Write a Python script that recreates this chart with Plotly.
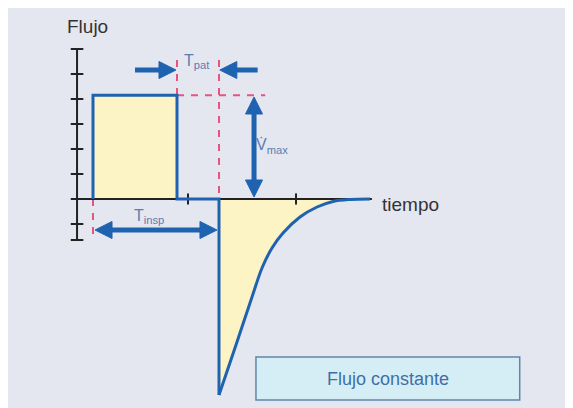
import math
import plotly.graph_objects as go

# ---------------- data ----------------
# time in s (0 = start of inspiration), flow in arbitrary units (1 unit = 1 tick)
t_wave = [0.0, 0.0, 1.0, 1.0, 1.5, 1.5]
flow_wave = [0.0, 4.15, 4.15, 0.0, 0.0, -7.84]

t_exp = [1.5, 1.702, 1.893, 2.012, 2.131, 2.262, 2.464, 2.667, 2.857, 3.06, 3.298]
flow_exp = [-7.84, -5.84, -3.92, -2.76, -1.96, -1.36, -0.72, -0.32, -0.10, -0.02, 0.0]

flow_ticks = [6.0, 5.0, 4.0, 3.0, 2.0, 1.0, 0.0, -1.0, -1.64]
time_ticks = [1.131, 2.417]
axis_t = -0.19
axis_t_end = 3.32

BLUE = "#1f62b0"
YELLOW = "#fdf4c6"
RED = "#e4557f"
LBL = "#5b7db1"

# axis scales (pixels per unit) used only to shape the arrowheads
PX_T = 84.0
PX_F = 25.0

fig = go.Figure()

# yellow fills
fig.add_trace(go.Scatter(x=[0, 0, 1.0, 1.0, 0], y=[0, 4.15, 4.15, 0, 0], fill="toself",
                         fillcolor=YELLOW, mode="none", hoverinfo="skip"))
fig.add_trace(go.Scatter(x=t_exp + [1.5], y=flow_exp + [0.0], fill="toself",
                         fillcolor=YELLOW, mode="none", hoverinfo="skip", line_shape="spline"))

# red dashed guides
dash = "7px,7px"
fig.add_trace(go.Scatter(x=[1.0, 1.0], y=[5.56, 4.15], mode="lines", line=dict(color=RED, width=2, dash=dash)))
fig.add_trace(go.Scatter(x=[1.5, 1.5], y=[5.56, 0.0], mode="lines", line=dict(color=RED, width=2, dash=dash)))
fig.add_trace(go.Scatter(x=[1.0, 2.05], y=[4.15, 4.15], mode="lines", line=dict(color=RED, width=2, dash=dash)))
fig.add_trace(go.Scatter(x=[0.0, 0.0], y=[0.0, -1.5], mode="lines", line=dict(color=RED, width=2, dash=dash)))

# axes
fig.add_trace(go.Scatter(x=[axis_t, axis_t], y=[flow_ticks[0], flow_ticks[-1]], mode="lines",
                         line=dict(color="#222", width=2)))
fig.add_trace(go.Scatter(x=[axis_t, axis_t_end], y=[0, 0], mode="lines", line=dict(color="#222", width=2)))
fig.add_trace(go.Scatter(x=[axis_t] * len(flow_ticks), y=flow_ticks, mode="markers",
                         marker=dict(symbol="line-ew", size=9, line=dict(color="#222", width=2))))
fig.add_trace(go.Scatter(x=time_ticks, y=[0] * len(time_ticks), mode="markers",
                         marker=dict(symbol="line-ns", size=8, line=dict(color="#222", width=2))))

# waveform
fig.add_trace(go.Scatter(x=t_wave, y=flow_wave, mode="lines", line=dict(color=BLUE, width=3)))
fig.add_trace(go.Scatter(x=t_exp, y=flow_exp, mode="lines", line=dict(color=BLUE, width=3, shape="spline")))


HEAD_LEN = 17.0
HEAD_HALF = 8.5


def head(tip_x, tip_y, ux, uy):
    # returns polygon of an arrowhead whose tip is at (tip_x, tip_y), pointing along (ux, uy) in px
    bx = tip_x - HEAD_LEN * ux / PX_T
    by = tip_y - HEAD_LEN * uy / PX_F
    px, py = -uy, ux
    return ([tip_x, bx + HEAD_HALF * px / PX_T, bx - HEAD_HALF * px / PX_T, tip_x, None],
            [tip_y, by + HEAD_HALF * py / PX_F, by - HEAD_HALF * py / PX_F, tip_y, None])


def arrow(x_tip, y_tip, x_tail, y_tail, both=False):
    dx = (x_tip - x_tail) * PX_T
    dy = (y_tip - y_tail) * PX_F
    L = math.hypot(dx, dy)
    ux, uy = dx / L, dy / L
    sx1 = x_tip - (HEAD_LEN - 2) * ux / PX_T
    sy1 = y_tip - (HEAD_LEN - 2) * uy / PX_F
    sx0, sy0 = x_tail, y_tail
    hx, hy = head(x_tip, y_tip, ux, uy)
    if both:
        sx0 = x_tail + (HEAD_LEN - 2) * ux / PX_T
        sy0 = y_tail + (HEAD_LEN - 2) * uy / PX_F
        h2x, h2y = head(x_tail, y_tail, -ux, -uy)
        hx += h2x
        hy += h2y
    fig.add_trace(go.Scatter(x=[sx0, sx1], y=[sy0, sy1], mode="lines",
                             line=dict(color=BLUE, width=5), hoverinfo="skip"))
    fig.add_trace(go.Scatter(x=hx, y=hy, mode="lines", fill="toself", fillcolor=BLUE,
                             line=dict(color=BLUE, width=1), hoverinfo="skip"))


arrow(0.988, 5.16, 0.5, 5.16)
arrow(1.51, 5.16, 1.96, 5.16)
arrow(1.917, 4.08, 1.917, 0.08, both=True)
arrow(1.476, -1.24, 0.024, -1.24, both=True)

# labels
fig.add_annotation(x=1.24, y=5.5, text="T<sub>pat</sub>", showarrow=False, font=dict(size=16, color=LBL))
fig.add_annotation(x=2.13, y=2.12, text="V̇<sub>max</sub>", showarrow=False, font=dict(size=16, color=LBL))
fig.add_annotation(x=0.67, y=-0.68, text="T<sub>insp</sub>", showarrow=False, font=dict(size=16, color=LBL))
fig.add_annotation(x=-0.07, y=6.9, text="Flujo", showarrow=False, font=dict(size=19, color="#333"))
fig.add_annotation(x=3.417, y=-0.2, text="tiempo", showarrow=False, xanchor="left",
                   font=dict(size=19, color="#333"))

# box
fig.add_shape(type="rect", x0=1.94, x1=5.08, y0=-8.04, y1=-6.32, xref="x", yref="y",
              fillcolor="#d5eef6", line=dict(color="#5f86a8", width=1.5))
fig.add_annotation(x=3.51, y=-7.18, text="Flujo constante", showarrow=False,
                   font=dict(size=18, color="#3f6fa6"))

# the page adds an 8px margin, so the figure starts at screen pixel (8, 8)
fig.update_layout(
    width=573, height=408, margin=dict(l=0, r=0, t=0, b=0),
    paper_bgcolor="#e4e6f0", plot_bgcolor="rgba(0,0,0,0)", showlegend=False,
    font=dict(family="Arial, Liberation Sans, sans-serif"),
    xaxis=dict(range=[(8 - 93) / 84, (8 + 573 - 93) / 84], visible=False, fixedrange=True),
    yaxis=dict(range=[-(8 + 408 - 199) / 25, (199 - 8) / 25], visible=False, fixedrange=True),
)
fig.write_html("out.html")
